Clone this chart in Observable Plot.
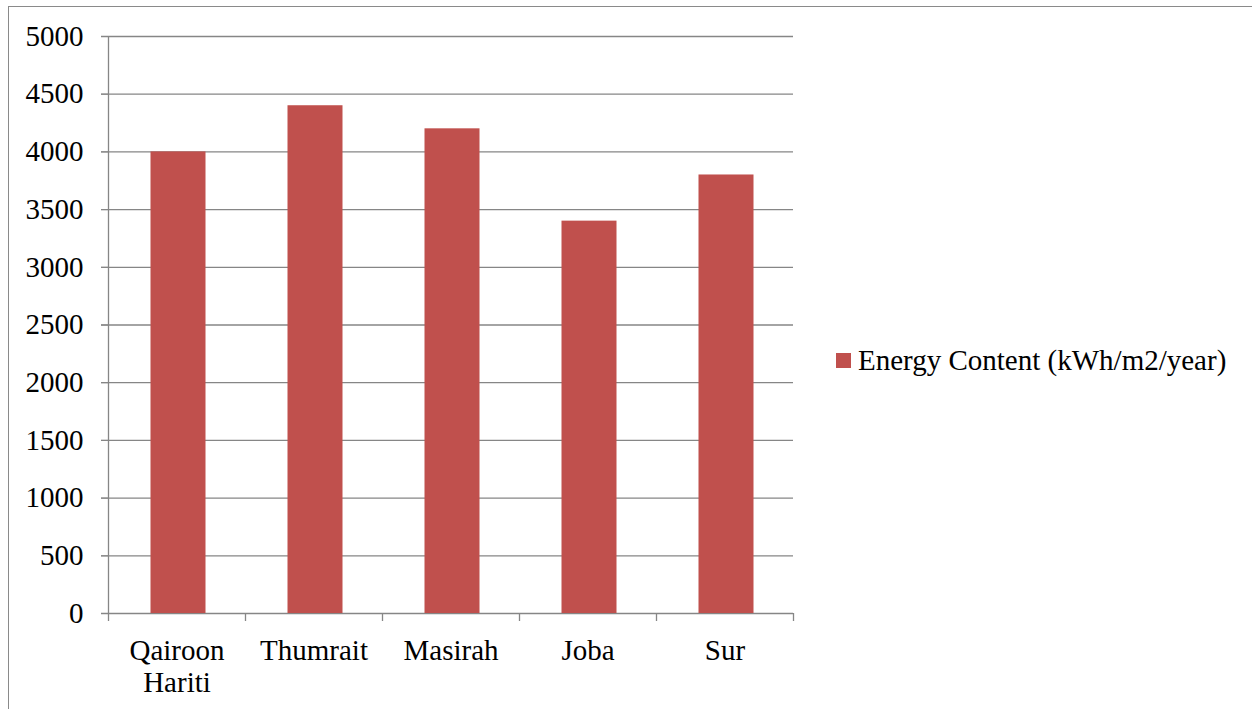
<!DOCTYPE html>
<html>
<head>
<meta charset="utf-8">
<script src="https://cdn.jsdelivr.net/npm/d3@7"></script>
<script src="https://cdn.jsdelivr.net/npm/@observablehq/plot@0.6"></script>
<style>
  html, body { margin: 0; padding: 0; background: #fff; overflow: hidden; }
  #wrap { position: relative; width: 1252px; height: 709px; overflow: hidden; font-family: "Liberation Serif", "Times New Roman", serif; }
  #border { position: absolute; left: 8px; top: 6px; width: 1280px; height: 740px; border: 1.5px solid #8a8a8a; box-sizing: border-box; }
  #chart { position: absolute; left: 0; top: 0; }
  #legend { position: absolute; left: 836px; top: 344px; font-size: 29px; color: #000; display: flex; align-items: center; white-space: nowrap; }
  #legend .sw { width: 15px; height: 15px; background: #C0504D; margin-right: 7px; }
</style>
</head>
<body>
<div id="wrap">
  <div id="border"></div>
  <div id="chart"></div>
  <div id="legend"></div>
</div>
<script>
const categories = ["Qairoon Hariti", "Thumrait", "Masirah", "Joba", "Sur"];
const labels = ["Qairoon\nHariti", "Thumrait", "Masirah", "Joba", "Sur"];
const energy = [4000, 4400, 4200, 3400, 3800];
const yTicks = [0, 500, 1000, 1500, 2000, 2500, 3000, 3500, 4000, 4500, 5000];
const seriesName = "Energy Content (kWh/m2/year)";
const barColor = "#C0504D";
const gridColor = "#868686";

const data = categories.map((c, i) => ({category: c, value: energy[i]}));
const labelOf = new Map(categories.map((c, i) => [c, labels[i]]));

const W = 1252, H = 709;
const mL = 108, mR = 459, mT = 36, mB = 96;
const step = (W - mL - mR) / categories.length;

const chart = Plot.plot({
  width: W,
  height: H,
  marginLeft: mL,
  marginRight: mR,
  marginTop: mT,
  marginBottom: mB,
  style: {fontFamily: "Liberation Serif, Times New Roman, serif", fontSize: "29px", color: "#000", background: "transparent"},
  x: {domain: categories, paddingInner: 0.6, paddingOuter: 0.3, axis: null, label: null},
  y: {domain: [0, 5000], axis: null, label: null},
  marks: [
    Plot.gridY(yTicks, {stroke: gridColor, strokeOpacity: 1, strokeWidth: 1.3, insetLeft: -7}),
    Plot.barY(data, {x: "category", y: "value", fill: barColor, dx: 1.5}),
    Plot.ruleX([categories[0]], {y1: 0, y2: 5000, dx: -step / 2, stroke: gridColor, strokeWidth: 1.3}),
    Plot.axisY({ticks: yTicks, tickSize: 7, tickPadding: 18, tickFormat: d => String(d), label: null, stroke: gridColor, strokeOpacity: 1, fontSize: 29, fill: "#000"}),
    Plot.axisX({ticks: categories, tickSize: 8, dx: -step / 2, text: null, label: null, stroke: gridColor, strokeOpacity: 1, strokeWidth: 1.3}),
    Plot.axisX({ticks: [categories[categories.length - 1]], tickSize: 8, dx: step / 2, text: null, label: null, stroke: gridColor, strokeOpacity: 1, strokeWidth: 1.3}),
    Plot.axisX({ticks: categories, tickSize: 0, tickPadding: 23, tickFormat: d => labelOf.get(d), label: null, lineHeight: 1.12, fontSize: 29, fill: "#000"})
  ]
});
document.getElementById("chart").appendChild(chart);

const lg = document.getElementById("legend");
const sw = document.createElement("span"); sw.className = "sw";
const tx = document.createElement("span"); tx.textContent = seriesName;
lg.appendChild(sw); lg.appendChild(tx);
</script>
</body>
</html>
